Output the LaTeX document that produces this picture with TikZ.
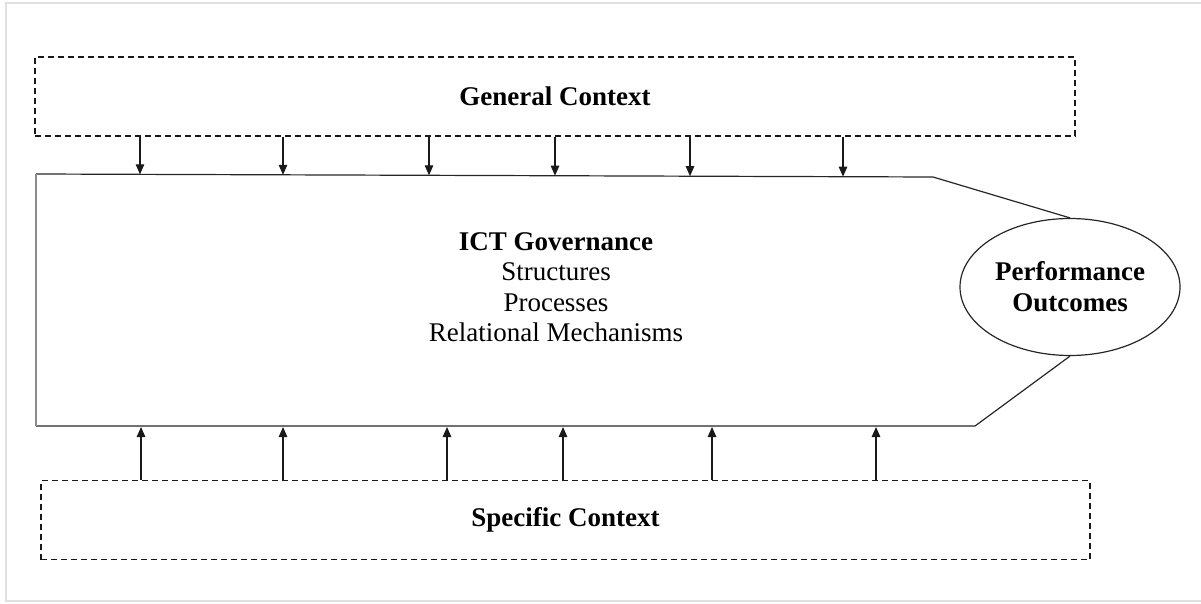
\documentclass[tikz,border=0pt]{standalone}
\usepackage{fontspec}
\setmainfont{Liberation Serif}
\usetikzlibrary{arrows.meta,shapes.geometric}
\begin{document}
\begin{tikzpicture}[x=1pt,y=-1pt,
  ctxbox/.style={draw=black!90,line width=1.5pt,dash pattern=on 6pt off 4pt,
    minimum height=79pt,inner sep=0pt,font=\fontsize{27}{30.5}\selectfont\bfseries},
  outline/.style={draw=black!85,line width=1.2pt},
  arr/.style={draw=black!90,line width=1.2pt,-{Triangle[length=10pt,width=8.5pt]}},
  perfnode/.style={ellipse,draw=black!85,line width=1.2pt,minimum width=220pt,
    minimum height=137pt,inner sep=0pt,align=center,
    font=\fontsize{27}{31}\selectfont\bfseries},
  ictnode/.style={align=center,inner sep=0pt,font=\fontsize{27}{30.5}\selectfont}]
\useasboundingbox (0,0) rectangle (1201,604);
\draw[black!12,line width=2pt] (6,3) rectangle (1215,601);
% context boxes
\node[ctxbox,minimum width=1040pt] (general) at (555,96.5) {General Context};
\node[ctxbox,minimum width=1049pt] (specific) at (565.5,520) {Specific Context};
% performance ellipse
\node[perfnode] (perf) at (1070,287) {Performance\\Outcomes};
% main shape
\coordinate (mtl) at (36,174);
\coordinate (mtr) at (933,177);
\coordinate (mbl) at (36,426);
\coordinate (mbr) at (975,426);
\draw[outline] (mtl) -- (mtr) -- (perf.north);
\draw[outline] (mbl) -- (mbr) -- (perf.south);
\draw[black!45,line width=1.6pt] (mtl) -- (mbl);
% ICT text
\node[ictnode] (ict) at (556,287) {\textbf{ICT Governance}\\Structures\\Processes\\Relational Mechanisms};
% arrows down
\foreach \x/\y in {140/174.3,283/174.8,429/175.3,555/175.7,690/176.2,843/176.7}{
  \coordinate (t\x) at (\x,\y);
  \draw[arr] (general.south -| t\x) -- (t\x);
}
% arrows up
\foreach \x in {141,283,447,563,712,876}{
  \coordinate (b\x) at (\x,427);
  \draw[arr] (specific.north -| b\x) -- (b\x);
}
\end{tikzpicture}
\end{document}
